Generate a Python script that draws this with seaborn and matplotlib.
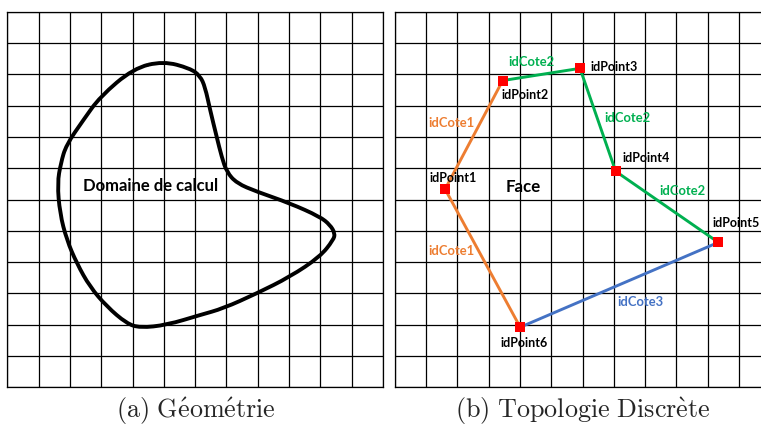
import numpy as np
import pandas as pd
import matplotlib
matplotlib.use("Agg")
import matplotlib.pyplot as plt
from matplotlib.path import Path
from matplotlib.patches import PathPatch
import seaborn as sns

sns.set_style("white")
plt.rcParams["mathtext.fontset"] = "cm"
plt.rcParams["font.family"] = ["Lato", "DejaVu Sans"]

# Grid size (cells per side)
N_CELLS = 12

# Outline of the computational domain (grid units, y counted downward)
domain_x = [4.98, 5.84, 6.16, 6.32, 6.48, 6.69, 6.85, 7.01, 7.33, 7.97, 9.03,
            9.99, 10.31, 10.47, 10.42, 9.99, 9.03, 7.97, 6.90, 6.16, 5.09,
            4.24, 3.81, 3.18, 2.64, 2.22, 1.90, 1.68, 1.60, 1.71, 1.88, 2.43,
            2.96, 4.03]
domain_y = [1.58, 1.81, 2.05, 2.41, 3.14, 4.00, 4.64, 5.12, 5.48, 5.75, 6.12,
            6.55, 6.81, 7.08, 7.29, 7.83, 8.47, 9.00, 9.48, 9.69, 10.01,
            10.10, 9.96, 9.42, 8.79, 8.04, 7.29, 6.44, 5.48, 4.84, 4.26, 3.46,
            2.72, 1.81]

# Discrete topology: vertices
point_names = ["idPoint1", "idPoint2", "idPoint3", "idPoint4", "idPoint5", "idPoint6"]
point_x = [1.61, 3.45, 5.92, 7.06, 10.34, 4.01]
point_y = [5.67, 2.20, 1.81, 5.10, 7.37, 10.08]
# label anchor (left edge, vertical centre)
point_label_x = [1.11, 3.41, 6.26, 7.28, 10.15, 3.37]
point_label_y = [5.30, 2.67, 1.76, 4.68, 6.74, 10.60]

# Edges (start index, end index, edge id)
edge_from = [0, 1, 2, 3, 4, 5]
edge_to = [1, 2, 3, 4, 5, 0]
edge_ids = ["idCote1", "idCote2", "idCote2", "idCote2", "idCote3", "idCote1"]
edge_label_x = [1.80, 4.36, 7.45, 9.18, 7.86, 1.82]
edge_label_y = [3.57, 1.60, 3.41, 5.72, 9.28, 7.64]

edge_colors = {"idCote1": "#ED7D31", "idCote2": "#00B050", "idCote3": "#4472C4"}

W, H = 761, 426
fig = plt.figure(figsize=(W / 100, H / 100), dpi=100)

cell = 31.3
bottom = (H - 387.3) / H
height = N_CELLS * cell / H
ax_a = fig.add_axes([7.3 / W, bottom, N_CELLS * cell / W, height])
ax_b = fig.add_axes([394.7 / W, bottom, N_CELLS * cell / W, height])


def style_grid(ax):
    ax.set_xlim(0, N_CELLS)
    ax.set_ylim(N_CELLS, 0)
    ticks = np.arange(N_CELLS + 1)
    ax.set_xticks(ticks)
    ax.set_yticks(ticks)
    ax.tick_params(length=0, labelbottom=False, labelleft=False)
    ax.grid(True, color="black", linewidth=0.9)
    for sp in ax.spines.values():
        sp.set_visible(True)
        sp.set_color("black")
        sp.set_linewidth(0.9)
    ax.set_axisbelow(True)


style_grid(ax_a)
style_grid(ax_b)

# (a) smooth closed outline: quadratic Bezier through midpoints
pts = np.column_stack([domain_x, domain_y])
n = len(pts)
mids = (pts + np.roll(pts, -1, axis=0)) / 2
verts = [mids[-1]]
codes = [Path.MOVETO]
for i in range(n):
    verts += [pts[i], mids[i]]
    codes += [Path.CURVE3, Path.CURVE3]
outline = PathPatch(Path(verts, codes), facecolor="none", edgecolor="black",
                    linewidth=2.8, joinstyle="round", zorder=3)
ax_a.add_patch(outline)
ax_a.text(4.58, 5.56, "Domaine de calcul", ha="center", va="center",
          fontsize=12.0, fontweight="bold", color="black", zorder=4)

# (b) edges
for a, b, eid in zip(edge_from, edge_to, edge_ids):
    sns.lineplot(x=[point_x[a], point_x[b]], y=[point_y[a], point_y[b]],
                 color=edge_colors[eid], linewidth=2.1, sort=False,
                 estimator=None, ax=ax_b, zorder=3)
for eid, lx, ly in zip(edge_ids, edge_label_x, edge_label_y):
    ax_b.text(lx, ly, eid, ha="center", va="center", fontsize=9.4,
              fontweight="bold", color=edge_colors[eid], zorder=5)

# (b) vertices
sns.scatterplot(x=point_x, y=point_y, marker="s", color="#FF0000", s=50,
                linewidth=0, ax=ax_b, zorder=4)
for name, lx, ly in zip(point_names, point_label_x, point_label_y):
    ax_b.text(lx, ly, name, ha="left", va="center", fontsize=9.0,
              fontweight="bold", color="black", zorder=5)
ax_b.text(4.10, 5.59, "Face", ha="center", va="center", fontsize=12.2,
          fontweight="bold", color="black", zorder=5)
ax_b.set_xlim(0, N_CELLS)
ax_b.set_ylim(N_CELLS, 0)
ax_a.set_xlabel("")
ax_b.set_xlabel("")

# Captions
fig.text(195.8 / W, 1 - 411.0 / H, r"$\mathrm{(a)\ G\'eom\'etrie}$",
         ha="center", va="center", fontsize=18.8)
fig.text(582.5 / W, 1 - 411.0 / H, r"$\mathrm{(b)\ Topologie\ Discr\`ete}$",
         ha="center", va="center", fontsize=18.8)

fig.savefig("out.png", dpi=100)
